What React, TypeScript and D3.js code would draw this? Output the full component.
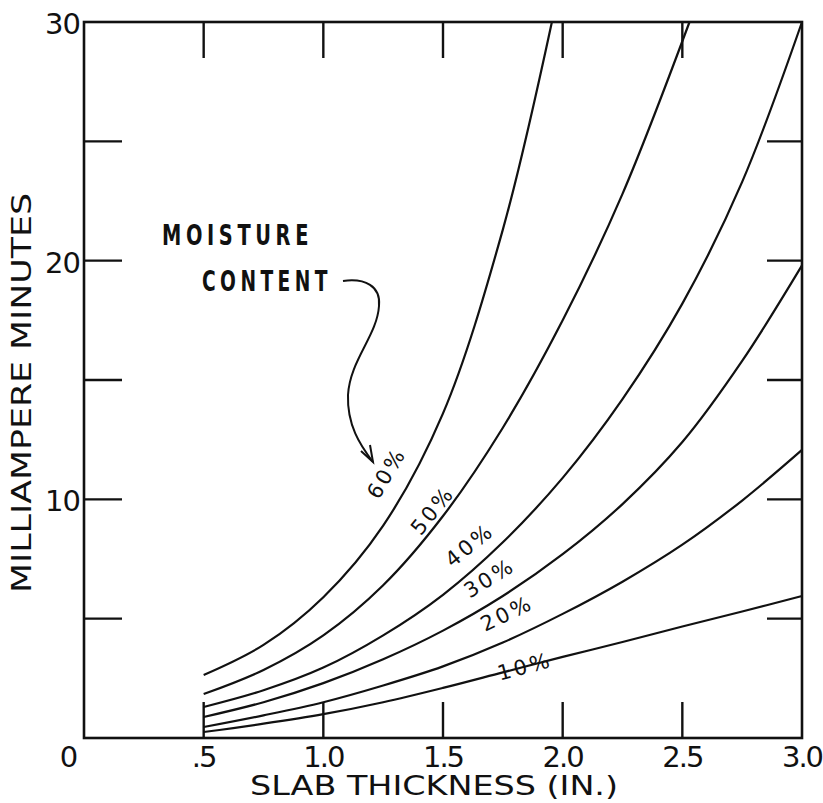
import React from 'react';
import * as d3 from 'd3';

// slab thickness (in.) vs milliampere minutes, one series per moisture content
const moisture = ['10%', '20%', '30%', '40%', '50%', '60%'];

const curve10 = [[0.5, 0.25], [0.75, 0.6], [1.0, 1.0], [1.25, 1.5], [1.5, 2.1], [1.75, 2.75], [2.0, 3.4], [2.25, 4.02], [2.5, 4.67], [2.75, 5.3], [3.0, 5.95]];
const curve20 = [[0.5, 0.46], [0.75, 0.95], [1.0, 1.5], [1.25, 2.2], [1.5, 3.0], [1.75, 4.0], [2.0, 5.2], [2.25, 6.55], [2.5, 8.1], [2.75, 9.95], [3.0, 12.07]];
const curve30 = [[0.5, 0.88], [0.75, 1.5], [1.0, 2.3], [1.25, 3.3], [1.5, 4.5], [1.75, 5.95], [2.0, 7.7], [2.25, 9.8], [2.5, 12.4], [2.75, 15.8], [3.0, 19.8]];
const curve40 = [[0.5, 1.3], [0.75, 2.0], [1.0, 2.95], [1.25, 4.3], [1.5, 6.0], [1.75, 8.2], [2.0, 10.9], [2.25, 14.2], [2.5, 18.2], [2.75, 23.3], [3.0, 30]];
const curve50 = [[0.5, 1.84], [0.75, 2.85], [1.0, 4.3], [1.25, 6.4], [1.5, 9.3], [1.75, 13.0], [2.0, 17.5], [2.25, 22.8], [2.53, 30]];
const curve60 = [[0.5, 2.64], [0.75, 3.9], [1.0, 5.9], [1.25, 8.9], [1.5, 13.6], [1.75, 21.3], [1.955, 30]];
const curves = [curve10, curve20, curve30, curve40, curve50, curve60];

// where each percent label sits, in data units, and its slant
const labelAt = [[1.85, 2.7], [1.78, 4.95], [1.71, 6.45], [1.63, 7.85], [1.48, 9.35], [1.29, 10.95]];
const labelAngle = [-15, -26, -32, -39, -51, -59];

const xTicks = [0.5, 1.0, 1.5, 2.0, 2.5];
const xTickLabels = ['.5', '1.0', '1.5', '2.0', '2.5', '3.0'];
const xLabelValues = [0.5, 1.0, 1.5, 2.0, 2.5, 3.0];
const yTicks = [5, 10, 15, 20, 25];
const yTickLabels = ['10', '20', '30'];
const yLabelValues = [10, 20, 30];

const W = 823;
const H = 803;
const font = "'DejaVu Sans', sans-serif";

export default function App() {
  const x = d3.scaleLinear().domain([0, 3]).range([84, 802]);
  const y = d3.scaleLinear().domain([0, 30]).range([738, 22]);

  const line = d3.line<number[]>()
    .x(d => x(d[0]))
    .y(d => y(d[1]))
    .curve(d3.curveCatmullRom.alpha(0.5));

  return (
    <svg width={W} height={H} style={{ position: 'absolute', left: 0, top: 0, background: '#fff' }}>
      {/* frame */}
      <rect x={x(0)} y={y(30)} width={x(3) - x(0)} height={y(0) - y(30)}
        fill="none" stroke="#111" strokeWidth={2.6} />

      {/* inward ticks on all four sides */}
      {xTicks.map(t => (
        <g key={'xt' + t} stroke="#111" strokeWidth={2.4}>
          <line x1={x(t)} x2={x(t)} y1={y(0)} y2={y(0) - 36} />
          <line x1={x(t)} x2={x(t)} y1={y(30)} y2={y(30) + 36} />
        </g>
      ))}
      {yTicks.map(t => (
        <g key={'yt' + t} stroke="#111" strokeWidth={2.4}>
          <line x1={x(0)} x2={x(0) + 38} y1={y(t)} y2={y(t)} />
          <line x1={x(3)} x2={x(3) - 35} y1={y(t)} y2={y(t)} />
        </g>
      ))}

      {/* tick labels */}
      <g fontFamily={font} fontSize={29} fill="#111">
        {xLabelValues.map((v, i) => (
          <text key={'xl' + v} x={x(v)} y={767} textAnchor="middle" letterSpacing={-2}>{xTickLabels[i]}</text>
        ))}
        {yLabelValues.map((v, i) => (
          <text key={'yl' + v} x={80} y={y(v) + 12} textAnchor="end" letterSpacing={-1}>{yTickLabels[i]}</text>
        ))}
        <text x={69} y={767} textAnchor="middle">0</text>
      </g>

      {/* axis titles */}
      <text x={434} y={795} textAnchor="middle" fontFamily={font} fontSize={26}
        textLength={368} lengthAdjust="spacingAndGlyphs" fill="#111">SLAB THICKNESS (IN.)</text>
      <text transform="translate(31,393) rotate(-90)" textAnchor="middle" fontFamily={font} fontSize={27}
        textLength={400} lengthAdjust="spacingAndGlyphs" fill="#111">MILLIAMPERE MINUTES</text>

      {/* curves */}
      {curves.map((c, i) => (
        <path key={'c' + i} d={line(c as number[][]) || ''} fill="none" stroke="#111" strokeWidth={2.2} />
      ))}

      {/* percent labels along curves */}
      <g fontFamily={font} fontSize={21} fill="#111" letterSpacing={3}>
        {moisture.map((m, i) => (
          <text key={m} textAnchor="middle"
            transform={`translate(${x(labelAt[i][0])},${y(labelAt[i][1])}) rotate(${labelAngle[i]})`}>{m}</text>
        ))}
      </g>

      {/* annotation */}
      <g fontFamily="'DejaVu Sans Condensed', 'DejaVu Sans', sans-serif" fontWeight="bold" fontSize={28} fill="#111" letterSpacing={6}>
        <text x={162} y={245} textLength={151} lengthAdjust="spacingAndGlyphs">MOISTURE</text>
        <text x={202} y={291} textLength={130} lengthAdjust="spacingAndGlyphs">CONTENT</text>
      </g>
      <path d="M343,281 C365,278 381,286 379,306 C377,336 350,360 348,395 C347,425 360,445 373,462"
        fill="none" stroke="#111" strokeWidth={2} />
      <path d="M361,451 L373,462 L370,445" fill="none" stroke="#111" strokeWidth={2} />
    </svg>
  );
}
